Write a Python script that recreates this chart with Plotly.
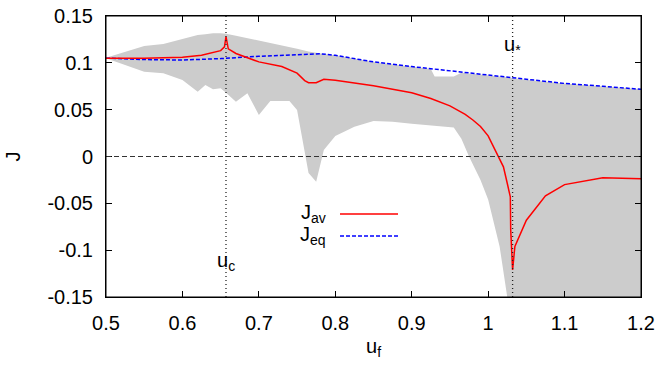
import plotly.graph_objects as go

# ---- data ----
u_av = [0.5, 0.55, 0.6, 0.625, 0.65, 0.655, 0.657, 0.66, 0.67, 0.7, 0.73, 0.75, 0.76, 0.765,
        0.775, 0.785, 0.8, 0.85, 0.9, 0.925, 0.95, 0.97, 0.98, 0.99, 1.0, 1.013, 1.02, 1.025,
        1.029, 1.0295, 1.032, 1.035, 1.05, 1.075, 1.1, 1.15, 1.2]
J_av = [0.105, 0.1048, 0.106, 0.108, 0.113, 0.117, 0.128, 0.115, 0.110, 0.101, 0.096, 0.089,
        0.081, 0.0788, 0.0788, 0.0824, 0.0815, 0.0755, 0.068, 0.062, 0.054, 0.045, 0.039, 0.032,
        0.022, 0.0016, -0.011, -0.0286, -0.043, -0.078, -0.121, -0.096, -0.068, -0.042, -0.030,
        -0.0226, -0.0237]

u_eq = [0.5, 0.55, 0.6, 0.65, 0.7, 0.75, 0.78, 0.8, 0.85, 0.9, 0.95, 1.0, 1.05, 1.1, 1.15, 1.2]
J_eq = [0.105, 0.1035, 0.103, 0.1045, 0.107, 0.109, 0.1097, 0.108, 0.101, 0.096, 0.0915, 0.087,
        0.082, 0.078, 0.075, 0.0717]

band_u = [0.5, 0.55, 0.575, 0.6, 0.62, 0.63, 0.64, 0.65, 0.657, 0.67, 0.685, 0.7, 0.715, 0.74,
          0.75, 0.765, 0.775, 0.785, 0.8, 0.825, 0.85, 0.875, 0.9, 0.925, 0.93, 0.955, 0.965,
          0.975, 0.99, 1.0, 1.015, 1.025, 1.03, 1.05, 1.1, 1.15, 1.2]
band_hi = [0.1055, 0.118, 0.120, 0.125, 0.1297, 0.1305, 0.1315, 0.1315, 0.131, 0.129, 0.1265,
           0.124, 0.1215, 0.117, 0.115, 0.112, 0.1105, 0.1095, 0.108, 0.1045, 0.101, 0.0985,
           0.096, 0.0935, 0.0855, 0.0855, 0.0895, 0.0888, 0.0875, 0.087, 0.0855, 0.0845, 0.084,
           0.082, 0.078, 0.075, 0.0717]
band_lo = [0.105, 0.0906, 0.0888, 0.0817, 0.069, 0.0763, 0.0717, 0.0728, 0.068, 0.0585, 0.0675,
           0.0443, 0.0593, 0.0593, 0.0496, -0.0176, -0.027, 0.007, 0.022, 0.0318, 0.038, 0.037,
           0.035, 0.033, 0.0325, 0.031, 0.019, 0.0, -0.025, -0.046, -0.096, -0.15, -0.2, -0.2,
           -0.2, -0.2, -0.2]

u_c = 0.657
u_star = 1.032

x_ticks = [0.5, 0.6, 0.7, 0.8, 0.9, 1.0, 1.1, 1.2]
x_ticktext = ["0.5", "0.6", "0.7", "0.8", "0.9", "1", "1.1", "1.2"]
y_ticks = [-0.15, -0.1, -0.05, 0, 0.05, 0.1, 0.15]
y_ticktext = ["-0.15", "-0.1", "-0.05", "0", "0.05", "0.1", "0.15"]

FONT = "Liberation Sans, Arial, Helvetica, sans-serif"
FS = 20

fig = go.Figure()
fig.add_trace(go.Scatter(x=band_u, y=band_lo, mode="lines", line=dict(width=0, color="#cccccc"),
                         showlegend=False, hoverinfo="skip"))
fig.add_trace(go.Scatter(x=band_u, y=band_hi, mode="lines", line=dict(width=0, color="#cccccc"),
                         fill="tonexty", fillcolor="#cccccc", showlegend=False, hoverinfo="skip"))

# zero line and markers
fig.add_hline(y=0, line=dict(color="#333333", width=1, dash="5px,3px"))
fig.add_vline(x=u_c, line=dict(color="#222222", width=1.3, dash="1px,3px"))
fig.add_vline(x=u_star, line=dict(color="#222222", width=1.3, dash="1px,3px"))

fig.add_trace(go.Scatter(x=u_eq, y=J_eq, mode="lines", line=dict(color="#0000ff", width=1.5, dash="4px,2px"),
                         showlegend=False))
fig.add_trace(go.Scatter(x=u_av, y=J_av, mode="lines", line=dict(color="#ff0000", width=1.5),
                         showlegend=False))

# frame
fig.add_shape(type="rect", xref="paper", yref="paper", x0=0, x1=1, y0=0, y1=1,
              line=dict(color="black", width=1), fillcolor="rgba(0,0,0,0)", layer="above")

# gnuplot-style legend (text left, sample right)
fig.add_annotation(xref="paper", yref="paper", x=0.415, y=0.2954, text="J<sub>av</sub>",
                   showarrow=False, xanchor="right", yanchor="middle", font=dict(size=FS, family=FONT, color="black"))
fig.add_annotation(xref="paper", yref="paper", x=0.415, y=0.2171, text="J<sub>eq</sub>",
                   showarrow=False, xanchor="right", yanchor="middle", font=dict(size=FS, family=FONT, color="black"))
fig.add_shape(type="line", xref="paper", yref="paper", x0=0.4374, x1=0.5458, y0=0.2954, y1=0.2954,
              line=dict(color="#ff0000", width=1.5))
fig.add_shape(type="line", xref="paper", yref="paper", x0=0.4374, x1=0.5458, y0=0.2171, y1=0.2171,
              line=dict(color="#0000ff", width=1.5, dash="4px,2px"))

fig.add_annotation(x=u_c, y=-0.1126, text="u<sub>c</sub>", showarrow=False,
                   font=dict(size=FS, family=FONT, color="black"))
fig.add_annotation(x=u_star, y=0.119, text="u<sub>*</sub>", showarrow=False,
                   font=dict(size=FS, family=FONT, color="black"))

# axis titles as text
fig.add_annotation(xref="paper", yref="paper", x=0, y=0.5, xshift=-94, text="J", textangle=-90,
                   showarrow=False, xanchor="center", yanchor="middle",
                   font=dict(size=FS, family=FONT, color="black"))
fig.add_annotation(xref="paper", yref="paper", x=0.5, y=0, yshift=-50, text="u<sub>f</sub>",
                   showarrow=False, xanchor="center", yanchor="middle",
                   font=dict(size=FS, family=FONT, color="black"))

axis_common = dict(showgrid=False, zeroline=False, showline=True, linecolor="black", linewidth=1,
                   mirror="ticks", ticks="inside", ticklen=6, tickcolor="black", automargin=False,
                   tickfont=dict(size=FS, family=FONT, color="black"))
fig.update_xaxes(range=[0.5, 1.2], tickvals=x_ticks, ticktext=x_ticktext,
                 ticklabelstandoff=8, **axis_common)
fig.update_yaxes(range=[-0.15, 0.15], tickvals=y_ticks, ticktext=y_ticktext,
                 ticklabelstandoff=8, **axis_common)

fig.update_layout(width=660, height=366, margin=dict(l=106, r=19, t=16, b=69),
                  plot_bgcolor="white", paper_bgcolor="white", showlegend=False,
                  font=dict(family=FONT, size=FS, color="black"))

# remove the default page margin so the figure sits at the window's top-left corner
fig.write_html("out.html", config={"displayModeBar": False},
               post_script="document.body.style.margin='0';document.body.style.overflow='hidden';")
